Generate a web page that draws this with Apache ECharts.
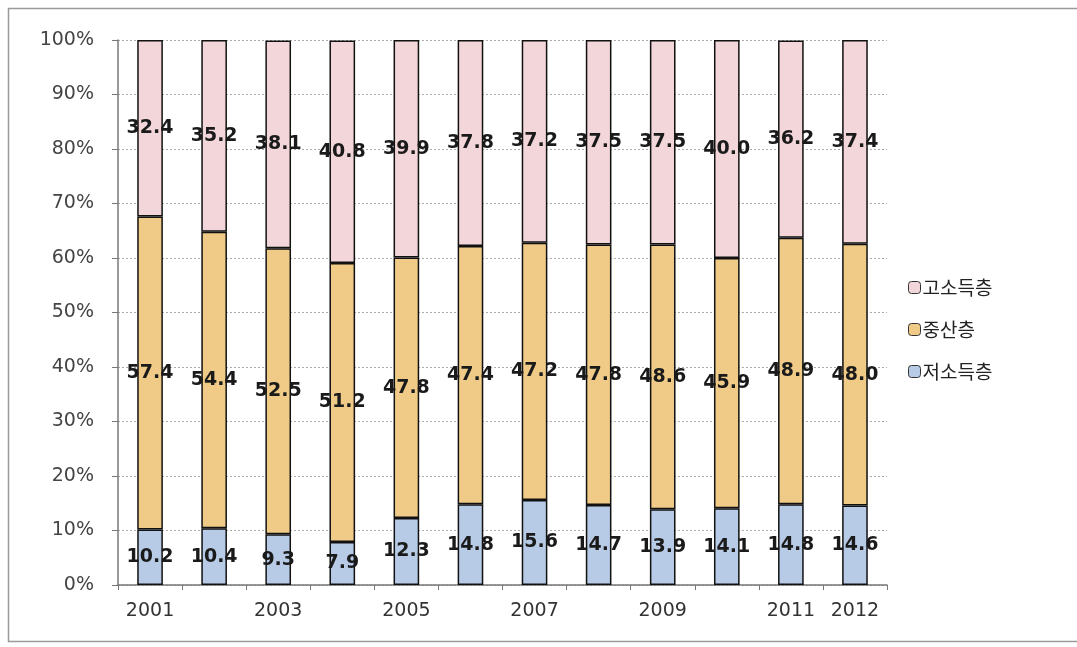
<!DOCTYPE html>
<html>
<head>
<meta charset="utf-8">
<script src="https://cdn.jsdelivr.net/npm/echarts@6/dist/echarts.min.js"></script>
<style>
  html, body { margin: 0; padding: 0; background: #fff; }
  #main { width: 1077px; height: 647px; }
</style>
</head>
<body>
<div id="main"></div>
<script>
// 연도
var years = ['2001', '2002', '2003', '2004', '2005', '2006', '2007', '2008', '2009', '2010', '2011', '2012'];
// 계층별 비율 (%)
var lowIncome = [10.2, 10.4, 9.3, 7.9, 12.3, 14.8, 15.6, 14.7, 13.9, 14.1, 14.8, 14.6];
var middleClass = [57.4, 54.4, 52.5, 51.2, 47.8, 47.4, 47.2, 47.8, 48.6, 45.9, 48.9, 48.0];
var highIncome = [32.4, 35.2, 38.1, 40.8, 39.9, 37.8, 37.2, 37.5, 37.5, 40.0, 36.2, 37.4];

var chartDom = document.getElementById('main');
var myChart = echarts.init(chartDom);

var labelStyle = {
  show: true,
  position: 'inside',
  color: '#1a1a1a',
  fontSize: 19,
  fontWeight: 'bold',
  fontFamily: 'DejaVu Sans, sans-serif',
  formatter: function (p) { return p.value.toFixed(1); }
};

function makeSeries(name, data, color) {
  return {
    name: name,
    type: 'bar',
    stack: 'total',
    barWidth: '40%',
    data: data,
    itemStyle: { color: color, borderColor: '#111', borderWidth: 1.5 },
    label: labelStyle
  };
}

var option = {
  animation: false,
  textStyle: { fontFamily: 'Noto Sans CJK KR, sans-serif' },
  graphic: [
    {
      type: 'rect',
      shape: { x: 8.5, y: 8.5, width: 1100, height: 633 },
      style: { fill: 'none', stroke: '#9a9a9a', lineWidth: 1.5 },
      silent: true
    }
  ],
  grid: { left: 118, right: 190, top: 40, bottom: 62 },
  legend: {
    orient: 'vertical',
    left: 903,
    top: 273,
    itemGap: 23,
    itemWidth: 12,
    itemHeight: 12,
    data: ['고소득층', '중산층', '저소득층'],
    itemStyle: { borderColor: '#333', borderWidth: 1 },
    textStyle: { fontSize: 19, color: '#222', fontFamily: 'Noto Sans CJK KR, sans-serif', padding: [0, 0, 0, -3] }
  },
  xAxis: {
    type: 'category',
    data: years,
    axisLine: { lineStyle: { color: '#777', width: 1.5 } },
    axisTick: { show: true, interval: 0, length: 5, lineStyle: { color: '#777' } },
    axisLabel: {
      interval: function (i) { return i % 2 === 0 || i === years.length - 1; },
      color: '#333',
      fontSize: 19,
      margin: 17,
      fontFamily: 'DejaVu Sans, sans-serif'
    }
  },
  yAxis: {
    type: 'value',
    min: 0,
    max: 100,
    interval: 10,
    axisLine: { show: true, lineStyle: { color: '#777', width: 1.5 } },
    axisTick: { show: true, length: 6, lineStyle: { color: '#777' } },
    axisLabel: {
      formatter: '{value}%',
      color: '#444',
      fontSize: 19,
      margin: 24,
      fontFamily: 'DejaVu Sans, sans-serif'
    },
    splitLine: { lineStyle: { color: '#aaa', type: [2, 2] } }
  },
  series: [
    makeSeries('저소득층', lowIncome, '#b8cbe6'),
    makeSeries('중산층', middleClass, '#efcb87'),
    makeSeries('고소득층', highIncome, '#f2d6d9')
  ]
};
myChart.setOption(option);
</script>
</body>
</html>
